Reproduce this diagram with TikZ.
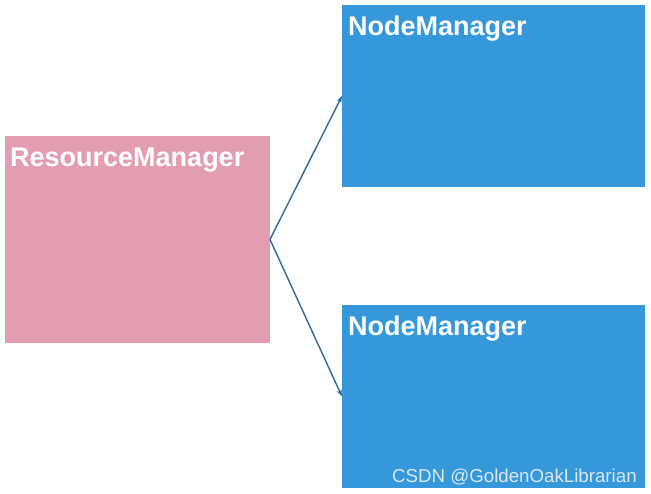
\documentclass[tikz,border=0pt]{standalone}
\usepackage{fontspec}
\setmainfont{Liberation Sans}
\usetikzlibrary{arrows.meta}
\definecolor{rmpink}{HTML}{E39DB0}
\definecolor{nmblue}{HTML}{3498DB}
\definecolor{arrowblue}{HTML}{2A6A9E}
\definecolor{wmgray}{HTML}{DCE6EE}
\begin{document}
\begin{tikzpicture}[x=1pt,y=-1pt,
  box/.style={draw=none,inner sep=0pt,outer sep=0pt,anchor=north west},
  title/.style={anchor=base west,inner sep=0pt,text=white,font=\fontsize{27}{30}\selectfont\bfseries},
  conn/.style={draw=arrowblue,line width=1.4pt,-{Stealth[length=7pt,width=5pt]}}]
\useasboundingbox (0,0) rectangle (651,494);
\node[box,fill=rmpink,minimum width=265pt,minimum height=207pt] (rm) at (5,136) {};
\node[box,fill=nmblue,minimum width=303pt,minimum height=182pt] (nm1) at (342,5) {};
\node[box,fill=nmblue,minimum width=303pt,minimum height=183pt] (nm2) at (342,305) {};
\node[title] (rmt) at (10,167) {ResourceManager};
\node[title] (nm1t) at (348,36) {NodeManager};
\node[title] (nm2t) at (348,336) {NodeManager};
\coordinate (src) at (rm.east);
\draw[conn] (src) -- (nm1.west);
\draw[conn] (src) -- (nm2.west);
\node[anchor=base west,inner sep=0pt,text=wmgray,font=\fontsize{18.7}{20}\selectfont] (wm) at (392,482) {CSDN @GoldenOakLibrarian};
\end{tikzpicture}
\end{document}
